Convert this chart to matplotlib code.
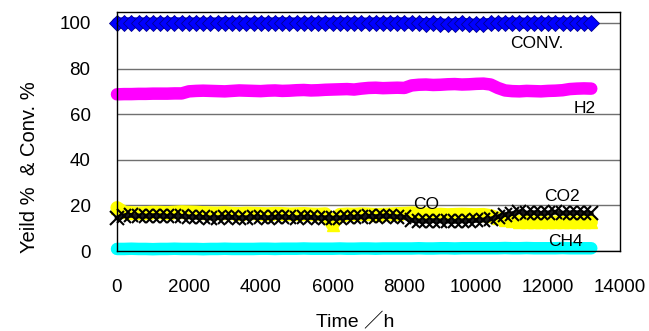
import matplotlib
matplotlib.use("Agg")
import matplotlib.pyplot as plt

# ---- data ----
time_h = list(range(0, 13400, 200))  # sampling times, h

conv = [100.0, 100.0, 100.1, 100.0, 100.0, 99.9, 100.0, 100.0, 100.1, 100.0,
        100.0, 100.0, 99.9, 100.0, 100.0, 100.1, 100.0, 100.0, 100.0, 99.9,
        100.0, 100.0, 100.0, 100.1, 100.0, 100.0, 99.9, 100.0, 100.0, 100.0,
        100.0, 100.1, 100.0, 100.0, 99.9, 100.0, 100.0, 100.0, 100.0, 100.1,
        100.0, 99.9, 99.8, 99.7, 99.8, 99.6, 99.4, 99.7, 99.8, 99.6,
        99.4, 99.5, 99.8, 99.9, 100.0, 100.0, 100.0, 99.9, 100.0, 100.0,
        100.0, 100.1, 100.0, 100.0, 100.0, 100.0, 100.0]

h2 = [68.7, 68.8, 68.8, 68.9, 68.9, 69.0, 69.0, 69.0, 69.1, 69.1,
      70.0, 70.2, 70.3, 70.2, 70.1, 70.0, 70.2, 70.4, 70.3, 70.2,
      70.1, 70.3, 70.4, 70.2, 70.3, 70.5, 70.6, 70.4, 70.5, 70.7,
      70.8, 70.9, 71.0, 70.8, 71.2, 71.5, 71.6, 71.4, 71.5, 71.6,
      71.5, 72.6, 72.9, 73.0, 72.8, 72.9, 73.1, 73.2, 73.0, 73.1,
      73.3, 73.4, 73.0, 71.5, 70.4, 70.1, 70.0, 70.2, 70.1, 70.0,
      70.2, 70.3, 70.5, 71.0, 71.2, 71.3, 71.2]

co = [19.0, 17.0, 16.8, 16.6, 16.8, 17.0, 16.9, 16.8, 17.0, 17.2,
      17.1, 17.0, 16.8, 16.7, 16.6, 16.8, 16.5, 16.4, 16.6, 16.5,
      16.4, 16.3, 16.5, 16.4, 16.2, 16.3, 16.4, 16.2, 16.1, 16.3,
      11.5, 16.0, 16.2, 16.1, 16.3, 16.2, 16.0, 16.1, 16.2, 16.4,
      16.5, 16.7, 16.3, 16.2, 16.0, 16.1, 15.9, 16.0, 16.1, 16.0,
      15.9, 16.0, 15.5, 14.5, 13.5, 13.0, 12.8, 12.9, 12.7, 12.8,
      12.6, 12.7, 12.5, 12.7, 12.6, 12.8, 12.7]

co2 = [14.5, 15.5, 15.6, 15.4, 15.3, 15.5, 15.4, 15.2, 15.3, 15.2,
       15.0, 14.8, 14.7, 14.5, 14.6, 14.8, 14.7, 14.5, 14.6, 14.8,
       14.7, 14.6, 14.8, 14.9, 14.7, 14.6, 14.8, 14.7, 14.5, 14.6,
       14.4, 14.5, 14.7, 14.8, 15.0, 15.2, 15.1, 15.3, 15.2, 15.0,
       14.8, 13.4, 13.2, 13.1, 13.3, 13.2, 13.1, 13.0, 13.2, 13.3,
       13.4, 13.6, 14.0, 15.0, 16.0, 16.4, 17.2, 16.6, 16.8, 16.5,
       16.7, 17.0, 16.6, 16.7, 16.8, 16.6, 16.5]

ch4 = [0.9, 0.9, 1.0, 0.9, 0.9, 0.8, 0.9, 0.9, 1.0, 0.9,
       0.9, 0.9, 0.8, 0.9, 0.9, 1.0, 0.9, 0.9, 0.9, 0.9,
       1.0, 1.0, 0.9, 1.0, 1.0, 1.0, 1.1, 1.0, 1.0, 1.0,
       1.0, 1.1, 1.0, 1.0, 1.1, 1.1, 1.0, 1.1, 1.1, 1.1,
       1.1, 1.1, 1.2, 1.1, 1.1, 1.2, 1.2, 1.1, 1.2, 1.2,
       1.2, 1.2, 1.2, 1.2, 1.3, 1.2, 1.2, 1.3, 1.2, 1.2,
       1.2, 1.2, 1.3, 1.2, 1.2, 1.2, 1.2]

x_ticks = [0, 2000, 4000, 6000, 8000, 10000, 12000, 14000]
y_ticks = [0, 20, 40, 60, 80, 100]

series_labels = [("CONV.", 10950, 91.2), ("H2", 12700, 62.3), ("CO", 8250, 20.2),
                 ("CO2", 11880, 23.7), ("CH4", 11990, 4.3)]

# ---- figure ----
plt.rcParams['font.family'] = ['Liberation Sans', 'Noto Sans CJK JP', 'DejaVu Sans']
fig = plt.figure(figsize=(6.49, 3.31), dpi=100)
ax = fig.add_axes([117/649, 1-251/331, 503/649, 239/331])

ax.set_xlim(0, 14000)
ax.set_ylim(0, 104.8)
ax.set_xticks(x_ticks)
ax.set_yticks(y_ticks)
ax.yaxis.grid(True, color='#707070', linewidth=1.0)
ax.set_axisbelow(True)
ax.tick_params(length=0, labelsize=13.5)
ax.tick_params(axis='y', pad=19)
ax.tick_params(axis='x', pad=20)
for s in ax.spines.values():
    s.set_color('black')
    s.set_linewidth(1.0)

band = dict(solid_capstyle='round', solid_joinstyle='round', clip_on=False)
# CONV.
ax.plot(time_h, conv, color='#0000FF', linewidth=8, **band)
ax.plot(time_h, conv, linestyle='none', marker='D', markersize=8.5,
        markerfacecolor='#0000FF', markeredgecolor='#000090', markeredgewidth=0.6, clip_on=False)
# H2
ax.plot(time_h, h2, color='#FF00FF', linewidth=9, **band)
# CH4
ax.plot(time_h, ch4, color='#00FFFF', linewidth=9, **band)
# CO
ax.plot(time_h, co, color='#FFFF00', linewidth=9.5, **band)
ax.plot(time_h, co, linestyle='none', marker='^', markersize=9,
        markerfacecolor='#FFFF00', markeredgecolor='#FFFF00', clip_on=False)
# CO2
ax.plot(time_h, co2, color='#1a1a1a', linewidth=3.5, **band)
ax.plot(time_h, co2, linestyle='none', marker='x', markersize=10.5,
        markeredgecolor='black', markeredgewidth=1.5, clip_on=False)

for txt, xv, yv in series_labels:
    ax.text(xv, yv, txt, fontsize=12.5, ha='left', va='center', color='black')

fig.text(30/649, 1-167/331, "Yeild %  & Conv. %", fontsize=14.5, rotation=90,
         ha='center', va='center')
fig.text(355/649, 1-322/331, "Time ／h", fontsize=14, ha='center', va='center')

fig.savefig("out.png", dpi=100)
